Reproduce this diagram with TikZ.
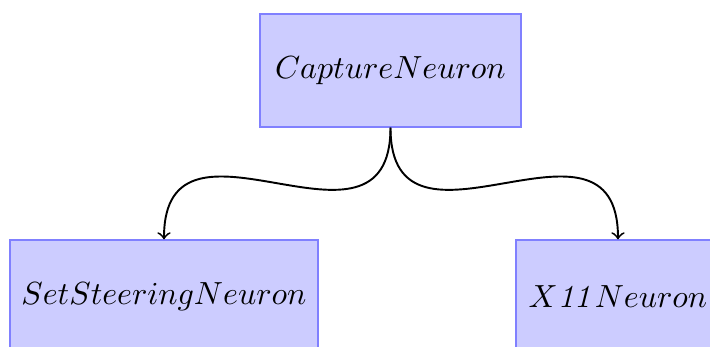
\documentclass[tikz,border=0pt]{standalone}
\begin{document}
\begin{tikzpicture}[x=0.3125pt,y=-0.3125pt,
  box/.style={draw=blue!50,fill=blue!20,minimum height=35.31pt,inner sep=0pt},
  link/.style={->,semithick}]
\useasboundingbox (0,0) rectangle (710,347);
\node[box,minimum width=81.56pt] (cap) at (390.5,70.5) {$CaptureNeuron$};
\node[box,minimum width=96.25pt] (set) at (164,296.5) {$SetSteeringNeuron$};
\node[box,minimum width=63.75pt] (x11) at (618,296.5) {$X\mathit{11}Neuron$};
\draw[link] (cap.south) .. controls +(0,150) and +(0,-150) .. (set.north);
\draw[link] (cap.south) .. controls +(0,150) and +(0,-150) .. (x11.north);
\end{tikzpicture}
\end{document}
